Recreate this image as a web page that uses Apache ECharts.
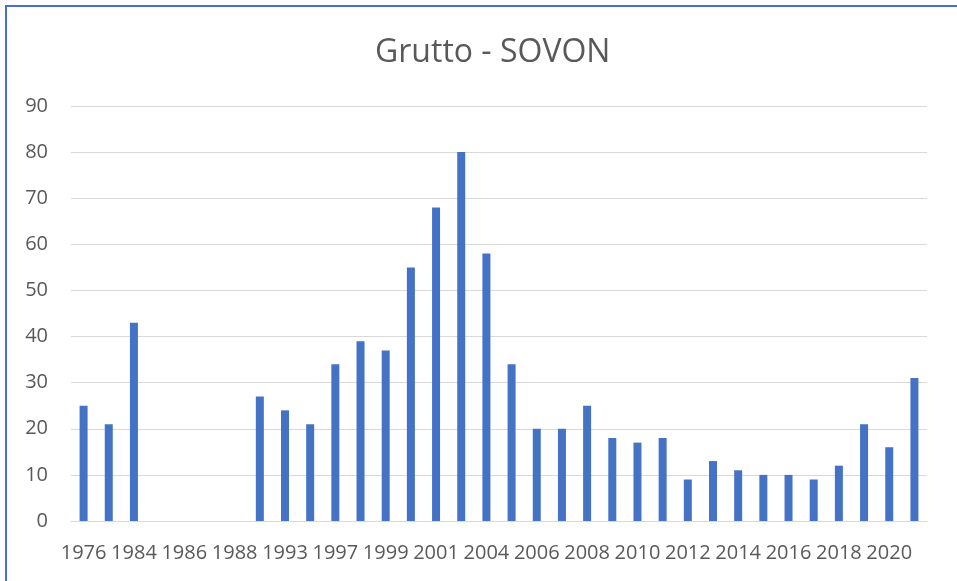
<!DOCTYPE html>
<html>
<head>
<meta charset="utf-8">
<script src="https://cdn.jsdelivr.net/npm/echarts@6/dist/echarts.min.js"></script>
<style>
  html, body { margin: 0; padding: 0; background: #fff; }
  .frame {
    position: absolute; left: 5px; top: 5px;
    width: 960px; height: 590px;
    border-left: 2px solid #4472C4;
    border-top: 2px solid #4472C4;
  }
  #chart { position: absolute; left: 0; top: 0; width: 957px; height: 581px; }
</style>
</head>
<body>
<div class="frame"></div>
<div id="chart"></div>
<script>
// jaren (elke tweede wordt gelabeld)
const years = ['1976', '1980', '1984', '1985', '1986', '1987', '1988', '1990', '1993', '1995',
  '1997', '1998', '1999', '2000', '2001', '2002', '2004', '2005', '2006', '2007',
  '2008', '2009', '2010', '2011', '2012', '2013', '2014', '2015', '2016', '2017',
  '2018', '2019', '2020', '2021']
// aantallen grutto
const counts = [25, 21, 43, null, null, null, null, 27, 24, 21,
  34, 39, 37, 55, 68, 80, 58, 34, 20, 20,
  25, 18, 17, 18, 9, 13, 11, 10, 10, 9,
  12, 21, 16, 31]
const yTicks = { min: 0, max: 90, interval: 10 }

const chart = echarts.init(document.getElementById('chart'))
const font = '"Open Sans", "Noto Sans", sans-serif'

chart.setOption({
  animation: false,
  title: {
    text: 'Grutto - SOVON',
    left: 370,
    top: 32,
    textStyle: { color: '#595959', fontSize: 32, fontWeight: 'normal', fontFamily: font }
  },
  grid: { left: 71, right: 30, top: 106, bottom: 60 },
  xAxis: {
    type: 'category',
    data: years,
    axisTick: { show: false },
    axisLine: { lineStyle: { color: '#d9d9d9', width: 1 } },
    axisLabel: {
      interval: 1,
      color: '#595959',
      fontSize: 20,
      fontFamily: font,
      margin: 22
    }
  },
  yAxis: {
    type: 'value',
    min: yTicks.min,
    max: yTicks.max,
    interval: yTicks.interval,
    axisLine: { show: false },
    axisTick: { show: false },
    splitLine: { lineStyle: { color: '#d9d9d9', width: 1 } },
    axisLabel: { color: '#595959', fontSize: 20, fontFamily: font, margin: 23 }
  },
  series: [
    {
      type: 'bar',
      data: counts,
      barWidth: 8,
      itemStyle: { color: '#4472C4' }
    }
  ]
})
</script>
</body>
</html>
